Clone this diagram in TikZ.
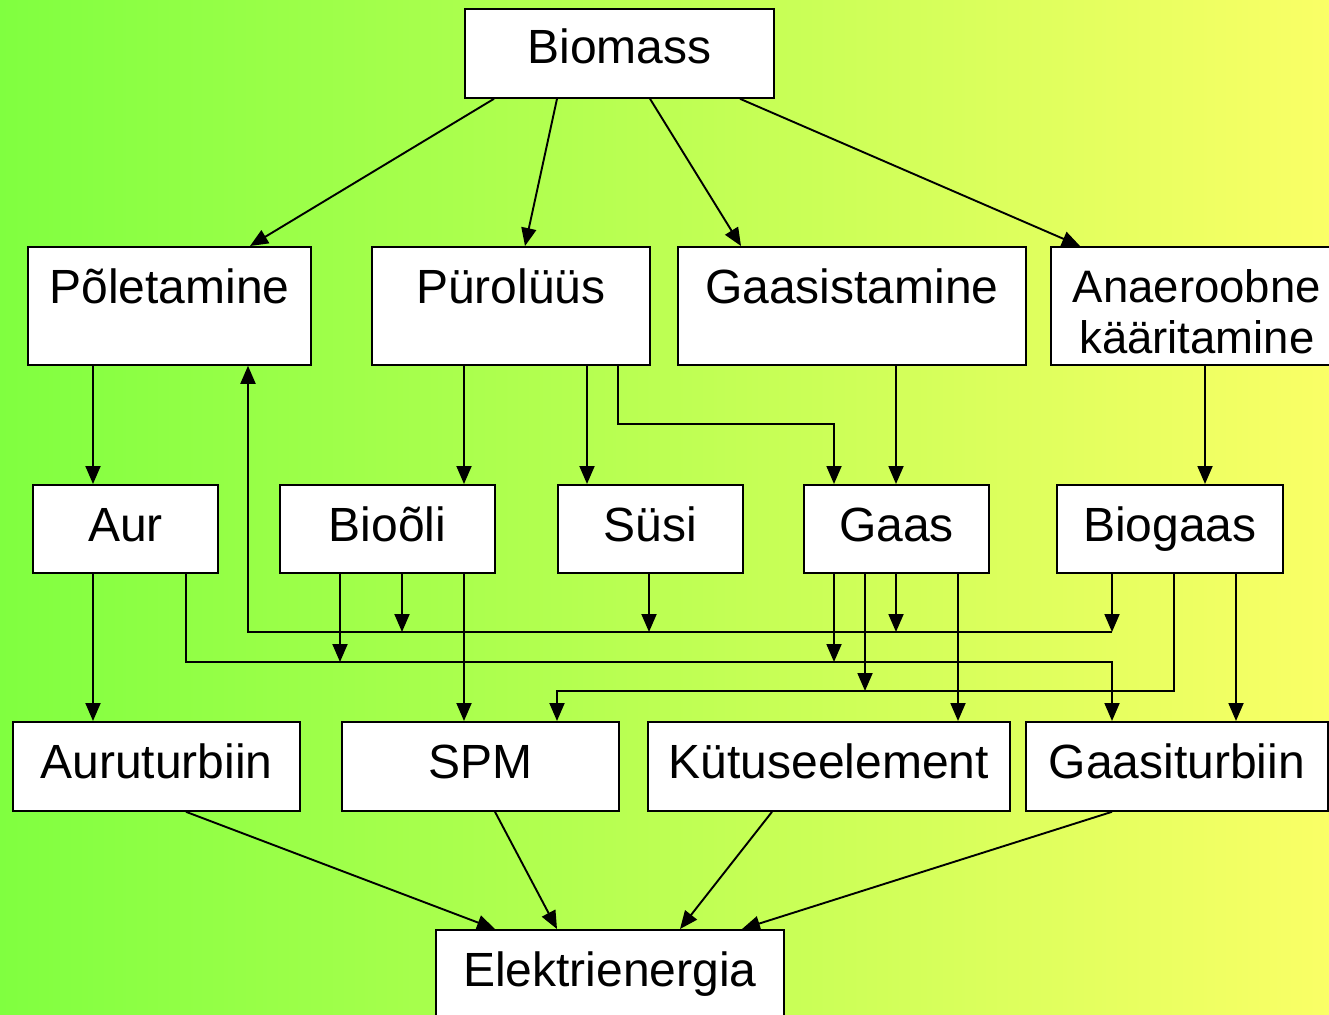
\documentclass[tikz,border=0pt]{standalone}
\usepackage{fontspec}
\setmainfont{Liberation Sans}
\usetikzlibrary{arrows.meta}
\definecolor{bgL}{RGB}{128,255,64}
\definecolor{bgR}{RGB}{250,255,102}
\begin{document}
\begin{tikzpicture}[x=1pt,y=-1pt,
  box/.style={draw=black, fill=white, line width=1.8pt, inner sep=0pt, anchor=north west,
    font=\fontsize{48}{55}\selectfont, text height=57pt},
  r0/.style={box, minimum height=89pt, text height=55pt, text depth=34pt},
  r1/.style={box, minimum height=118pt, text depth=61pt},
  r2/.style={box, minimum height=88pt, text depth=31pt},
  r3/.style={box, minimum height=89pt, text depth=32pt},
  r4/.style={box, minimum height=107pt, text depth=50pt},
  arr/.style={line width=1.9pt, -{Triangle[width=15pt,length=18pt]}}
]
\useasboundingbox (0,0) rectangle (1329,1014);
\clip (0,0) rectangle (1329,1014);
\shade[left color=bgL, right color=bgR] (0,0) rectangle (1329,1014);

% row 0
\node[r0, minimum width=309pt] (bm) at (464,8) {Biomass};
% row 1
\node[r1, minimum width=283pt] (pol) at (27,246) {Põletamine};
\node[r1, minimum width=278pt] (pur) at (371,246) {Pürolüüs};
\node[r1, minimum width=348pt] (gst) at (677,246) {Gaasistamine};
\node[r1, minimum width=292pt, text height=56pt, text depth=62pt,
  font=\fontsize{45.5}{51}\selectfont] (an) at (1050,246)
  {\begin{tabular}[t]{@{}c@{}}Anaeroobne\\kääritamine\end{tabular}};
% row 2
\node[r2, minimum width=185pt] (aur) at (32,484) {Aur};
\node[r2, minimum width=215pt] (bo) at (279,484) {Bioõli};
\node[r2, minimum width=185pt] (susi) at (557,484) {Süsi};
\node[r2, minimum width=185pt] (gaas) at (803,484) {Gaas};
\node[r2, minimum width=226pt] (bg) at (1056,484) {Biogaas};
% row 3
\node[r3, minimum width=287pt] (at) at (12,721) {Auruturbiin};
\node[r3, minimum width=277pt] (spm) at (341,721) {SPM};
\node[r3, minimum width=362pt] (kut) at (647,721) {Kütuseelement};
\node[r3, minimum width=302pt] (gt) at (1025,721) {Gaasiturbiin};
% row 4
\node[r4, minimum width=348pt] (el) at (435,929) {Elektrienergia};

% Biomass -> processes
\draw[arr] (494,0 |- bm.south) -- (250,0 |- pol.north);
\draw[arr] (557,0 |- bm.south) -- (525,0 |- pur.north);
\draw[arr] (650,0 |- bm.south) -- (741,0 |- gst.north);
\draw[arr] (740,0 |- bm.south) -- (1080,0 |- an.north);

% processes -> products
\draw[arr] (93,0 |- pol.south) -- (93,0 |- aur.north);
\draw[arr] (464,0 |- pur.south) -- (464,0 |- bo.north);
\draw[arr] (587,0 |- pur.south) -- (587,0 |- susi.north);
\draw[arr] (618,0 |- pur.south) -- (618,424) -- (834,424) -- (834,0 |- gaas.north);
\draw[arr] (896,0 |- gst.south) -- (896,0 |- gaas.north);
\draw[arr] (1205,0 |- an.south) -- (1205,0 |- bg.north);

% bus lines
\coordinate (busA) at (0,632);
\coordinate (busB) at (0,662);
\coordinate (busC) at (0,691);

\draw[arr] (1112,0 |- busA) -- (248,0 |- busA) -- (248,0 |- pol.south);
\draw[arr] (402,0 |- bo.south) -- (402,0 |- busA);
\draw[arr] (649,0 |- susi.south) -- (649,0 |- busA);
\draw[arr] (896,0 |- gaas.south) -- (896,0 |- busA);
\draw[arr] (1112,0 |- bg.south) -- (1112,0 |- busA);

\draw[arr] (186,0 |- aur.south) -- (186,0 |- busB) -- (1112,0 |- busB) -- (1112,0 |- gt.north);
\draw[arr] (340,0 |- bo.south) -- (340,0 |- busB);
\draw[arr] (834,0 |- gaas.south) -- (834,0 |- busB);

\draw[arr] (1174,0 |- bg.south) -- (1174,0 |- busC) -- (557,0 |- busC) -- (557,0 |- spm.north);
\draw[arr] (865,0 |- gaas.south) -- (865,0 |- busC);

% direct product -> converter
\draw[arr] (93,0 |- aur.south) -- (93,0 |- at.north);
\draw[arr] (464,0 |- bo.south) -- (464,0 |- spm.north);
\draw[arr] (958,0 |- gaas.south) -- (958,0 |- kut.north);
\draw[arr] (1236,0 |- bg.south) -- (1236,0 |- gt.north);

% converters -> electricity
\draw[arr] (186,0 |- at.south) -- (495,0 |- el.north);
\draw[arr] (495,0 |- spm.south) -- (557,0 |- el.north);
\draw[arr] (772,0 |- kut.south) -- (680,0 |- el.north);
\draw[arr] (1112,0 |- gt.south) -- (742,0 |- el.north);
\end{tikzpicture}
\end{document}
